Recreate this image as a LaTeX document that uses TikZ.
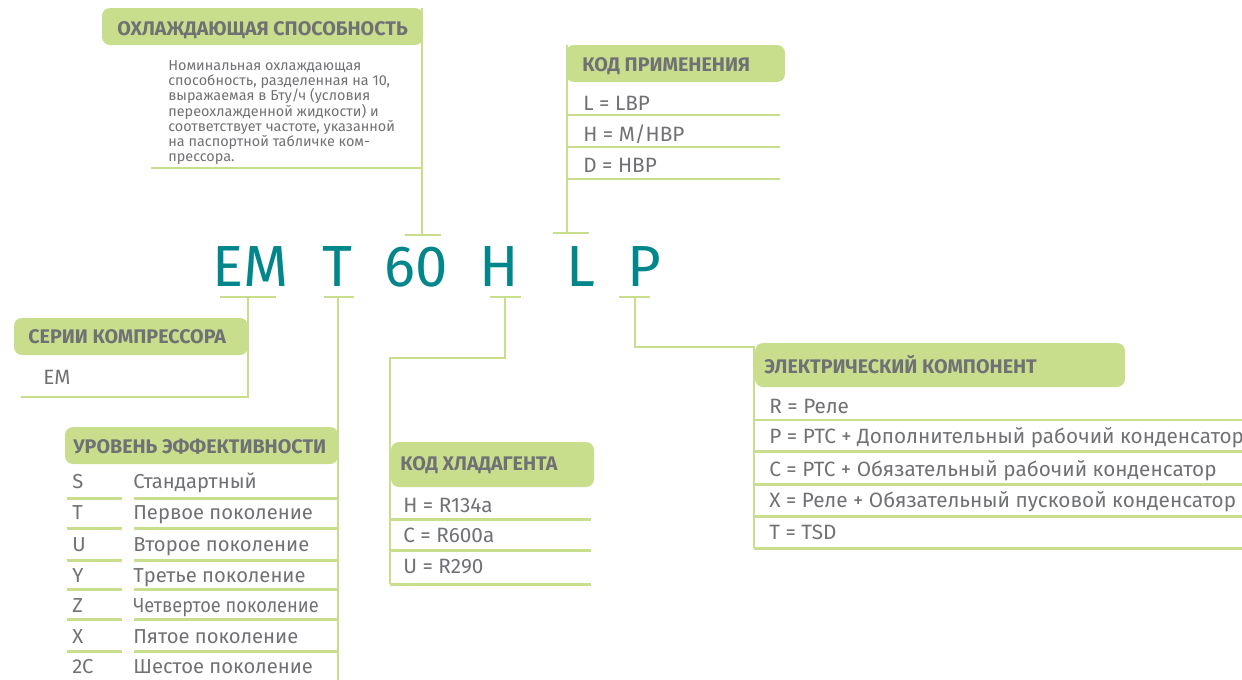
\documentclass[tikz,border=0pt]{standalone}
\usepackage{fontspec}
\setmainfont{Fira Sans}
\usetikzlibrary{positioning}
\definecolor{codegreen}{RGB}{200,222,140}
\definecolor{codeteal}{RGB}{0,134,139}
\definecolor{txtgray}{RGB}{112,113,116}
\newcommand\tightlines{\lineskiplimit=-10pt\relax\lineskip=0pt\relax}

\begin{document}
\begin{tikzpicture}[x=0.02cm, y=-0.02cm,
    hdr/.style={fill=codegreen, rounded corners=0.16cm},
    hdrtext/.style={anchor=base west, inner sep=0, text=txtgray, font=\fontsize{11.2}{13}\selectfont\bfseries},
    rowtext/.style={anchor=base west, inner sep=0, text=txtgray, font=\fontsize{11.8}{14}\selectfont},
    efftext/.style={rowtext, font=\fontsize{11.5}{14}\selectfont},
    code/.style={anchor=base, inner sep=0, text=codeteal, font=\fontsize{33}{36}\selectfont},
    guide/.style={draw=codegreen, line width=1.7pt}]

    \useasboundingbox (0,0) rectangle (1242,680);

    % model code
    \node[code] (em) at (251,286) {EM};
    \node[code] (eff) at (337,286) {T};
    \node[code] (cap) at (416,286) {60};
    \node[code] (ref) at (499,286) {H};
    \node[code] (app) at (581,286) {L};
    \node[code] (ele) at (644,286) {P};

    % tick points
    \coordinate (emfoot) at (248,297);
    \coordinate (efffoot) at (338,297);
    \coordinate (reffoot) at (505,297);
    \coordinate (elefoot) at (635,297);
    \coordinate (caphead) at (422,235);
    \coordinate (apphead) at (567,233);
    \draw[guide] (220,297) -- (276,297);
    \draw[guide] (324,297) -- (354,297);
    \draw[guide] (490,297) -- (521,297);
    \draw[guide] (619,297) -- (650,297);
    \draw[guide] (405,235) -- (441,235);
    \draw[guide] (553,233) -- (589,233);

    % cooling capacity
    \fill[hdr] (102,8) rectangle (423,45);
    \node[hdrtext] (caphdr) at (117,35) {ОХЛАЖДАЮЩАЯ СПОСОБНОСТЬ};
    \node[anchor=north west, inner sep=0, text=txtgray, align=left,
        font=\fontsize{8.2}{8.7}\selectfont\tightlines] (captxt) at (168,60)
        {Номинальная охлаждающая\\способность, разделенная на 10,\\выражаемая в Бту/ч (условия\\переохлажденной жидкости) и\\соответствует частоте, указанной\\на паспортной табличке ком-\\прессора.};
    \coordinate (captop) at (422,8);
    \draw[guide] (151,168) -- (422,168);
    \draw[guide] (captop) -- (caphead);

    % application code
    \fill[hdr] (566,45) rectangle (785,82);
    \node[hdrtext] (apphdr) at (582,71) {КОД ПРИМЕНЕНИЯ};
    \coordinate (apptop) at (567,45);
    \draw[guide] (apptop) -- (apphead);
    \foreach \t/\yb/\yl in {{L = LBP}/110/115, {H = M/HBP}/141/147, {D = HBP}/172/179} {
        \node[rowtext] at (583,\yb) {\t};
        \draw[guide] (567,\yl) -- (780,\yl);
    }

    % compressor series
    \fill[hdr] (14,318) rectangle (248,355);
    \node[hdrtext] (serhdr) at (28,343) {СЕРИИ КОМПРЕССОРА};
    \node[rowtext] (sertxt) at (43,384) {EM};
    \coordinate (serbot) at (21,397);
    \draw[guide] (emfoot) |- (serbot);

    % efficiency level
    \fill[hdr] (65,427) rectangle (338,464);
    \node[hdrtext] (effhdr) at (73,453) {УРОВЕНЬ ЭФФЕКТИВНОСТИ};
    \coordinate (effend) at (338,680);
    \draw[guide] (efffoot) -- (effend);
    \foreach \k/\t/\yb in {S/Стандартный/488, T/Первое поколение/519, U/Второе поколение/551,
        Y/Третье поколение/582, Z/{\scalebox{0.9}[1]{Четвертое поколение}}/612, X/Пятое поколение/643,
        2C/Шестое поколение/673} {
        \node[efftext] at (72,\yb) {\k};
        \node[efftext] at (133,\yb) {\t};
    }
    \foreach \yl in {498,528,560,589,619,651} {
        \draw[guide] (67,\yl) -- (122,\yl);
        \draw[guide] (134,\yl) -- (338,\yl);
    }

    % refrigerant code
    \fill[hdr] (391,442) rectangle (594,487);
    \node[hdrtext] (refhdr) at (400,470) {КОД ХЛАДАГЕНТА};
    \coordinate (refbend) at (390,358);
    \coordinate (refbot) at (390,584);
    \draw[guide] (reffoot) |- (refbend) -- (refbot);
    \foreach \t/\yb/\yl in {{H = R134a}/512/519, {C = R600a}/542/550, {U = R290}/573/584} {
        \node[rowtext] at (403,\yb) {\t};
        \draw[guide] (390,\yl) -- (591,\yl);
    }

    % electrical component
    \fill[hdr] (755,343) rectangle (1125,387);
    \node[hdrtext] (elehdr) at (764,373) {ЭЛЕКТРИЧЕСКИЙ КОМПОНЕНТ};
    \coordinate (elebend) at (754,347);
    \coordinate (elebot) at (754,548);
    \draw[guide] (elefoot) |- (elebend) -- (elebot);
    \foreach \t/\yb/\yl in {{R = Реле}/413/420, {P = PTC + Дополнительный рабочий конденсатор}/443/451,
        {C = PTC + Обязательный рабочий конденсатор}/476/484,
        {X = Реле + Обязательный пусковой конденсатор}/507/516, {T = TSD}/539/548} {
        \node[rowtext] at (769,\yb) {\t};
        \draw[guide] (754,\yl) -- (1242,\yl);
    }
\end{tikzpicture}
\end{document}
